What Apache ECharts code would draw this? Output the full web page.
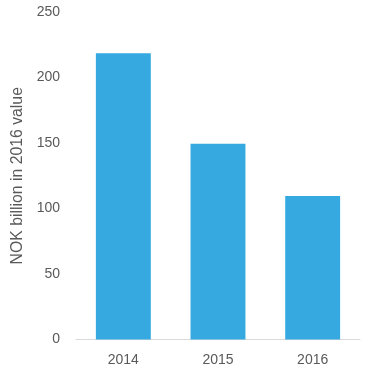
<!DOCTYPE html>
<html>
<head>
<meta charset="utf-8">
<style>html,body{margin:0;padding:0;background:#fff}#c{width:369px;height:377px}</style>
<script src="https://cdn.jsdelivr.net/npm/echarts@6/dist/echarts.min.js"></script>
</head>
<body>
<div id="c"></div>
<script>
const categories = ['2014', '2015', '2016'];
const values = [218.5, 149.5, 109.5];
const yTicks = [0, 50, 100, 150, 200, 250];

const chart = echarts.init(document.getElementById('c'), null, {renderer: 'canvas'});
chart.setOption({
  animation: false,
  grid: {left: 76, right: 9, top: 12, bottom: 37.5, containLabel: false},
  xAxis: {
    type: 'category',
    data: categories,
    axisLine: {lineStyle: {color: '#D9D9D9', width: 1}},
    axisTick: {show: false},
    axisLabel: {color: '#595959', fontSize: 14, fontFamily: 'Liberation Sans', margin: 14}
  },
  yAxis: {
    type: 'value',
    min: yTicks[0],
    max: yTicks[yTicks.length - 1],
    interval: 50,
    name: 'NOK billion in 2016 value',
    nameLocation: 'middle',
    nameGap: 40,
    nameTextStyle: {color: '#595959', fontSize: 15.8, fontFamily: 'Liberation Sans'},
    axisLine: {show: false},
    axisTick: {show: false},
    splitLine: {show: false},
    axisLabel: {color: '#595959', fontSize: 14, fontFamily: 'Liberation Sans', margin: 16}
  },
  series: [{
    type: 'bar',
    data: values,
    barWidth: '58%',
    itemStyle: {color: '#36A9E1'}
  }]
});
</script>
</body>
</html>
